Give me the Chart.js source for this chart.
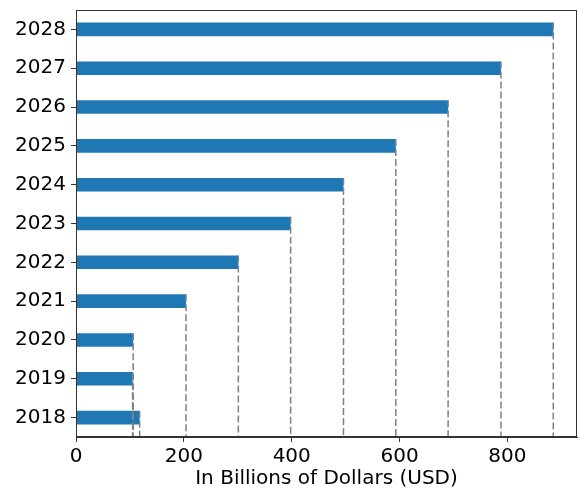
<!DOCTYPE html>
<html>
<head>
    <title>In Billions of Dollars (USD)</title>
    <script src="https://cdn.jsdelivr.net/npm/chart.js"></script>
    <style>
        body {
            margin: 0;
            background-color: #fff;
        }

        .chart-box {
            width: 580px;
            height: 491px;
        }
    </style>
</head>
<body>
    <div class="chart-box">
        <canvas id="myBarChart"></canvas>
    </div>

    <script>
        // years and values
        var years = ['2018', '2019', '2020', '2021', '2022', '2023', '2024', '2025', '2026', '2027', '2028'];
        var values = [118, 105, 106, 204, 301, 398, 496, 593, 690, 788, 885];
        var xTicks = [0, 200, 400, 600, 800];
        var xLabel = 'In Billions of Dollars (USD)';

        var fontName = "'DejaVu Sans', sans-serif";

        // dashed lines from each bar end down to the axis, plus the box around the plot
        var dropLines = {
            id: 'dropLines',
            afterDatasetsDraw: function (chart) {
                var ctx = chart.ctx;
                var area = chart.chartArea;
                var meta = chart.getDatasetMeta(0);
                ctx.save();
                ctx.strokeStyle = '#808080';
                ctx.lineWidth = 1.5;
                ctx.setLineDash([7, 3]);
                meta.data.forEach(function (bar) {
                    var top = bar.y - bar.height / 2;
                    ctx.beginPath();
                    ctx.moveTo(bar.x, top);
                    ctx.lineTo(bar.x, area.bottom);
                    ctx.stroke();
                });
                ctx.setLineDash([]);
                ctx.strokeStyle = '#333';
                ctx.lineWidth = 1;
                ctx.strokeRect(area.left + 0.5, area.top + 0.5, area.right - area.left - 1, area.bottom - area.top - 1);
                ctx.restore();
            }
        };

        var ctx = document.getElementById('myBarChart').getContext('2d');
        var myBarChart = new Chart(ctx, {
            type: 'bar',
            data: {
                labels: years,
                datasets: [{
                    data: values,
                    backgroundColor: '#1f77b4',
                    borderWidth: 0,
                    categoryPercentage: 1.0,
                    barPercentage: 0.35
                }]
            },
            options: {
                indexAxis: 'y',
                responsive: true,
                maintainAspectRatio: false,
                animation: false,
                layout: {
                    padding: { top: 10, right: 3, left: 0, bottom: 0 }
                },
                plugins: {
                    legend: { display: false },
                    tooltip: { enabled: false }
                },
                scales: {
                    x: {
                        type: 'linear',
                        min: 0,
                        max: 929,
                        afterBuildTicks: function (scale) {
                            scale.ticks = xTicks.map(function (v) { return { value: v }; });
                        },
                        afterFit: function (scale) {
                            scale.height = 54;
                            scale.paddingLeft = 0;
                            scale.paddingRight = 0;
                        },
                        grid: {
                            drawOnChartArea: false,
                            tickLength: 5,
                            tickColor: '#333'
                        },
                        border: { color: '#333' },
                        ticks: {
                            color: '#000',
                            padding: 3,
                            font: { family: fontName, size: 20 }
                        },
                        title: {
                            display: true,
                            text: xLabel,
                            color: '#000',
                            padding: { top: 2, bottom: 0 },
                            font: { family: fontName, size: 20 }
                        }
                    },
                    y: {
                        type: 'category',
                        reverse: true,
                        offset: true,
                        afterFit: function (scale) {
                            scale.width = 76;
                            scale.paddingTop = 0;
                            scale.paddingBottom = 0;
                        },
                        grid: {
                            drawOnChartArea: false,
                            offset: false,
                            tickLength: 5,
                            tickColor: '#333'
                        },
                        border: { color: '#333' },
                        ticks: {
                            color: '#000',
                            padding: 5,
                            font: { family: fontName, size: 20 }
                        }
                    }
                }
            },
            plugins: [dropLines]
        });
    </script>
</body>
</html>
